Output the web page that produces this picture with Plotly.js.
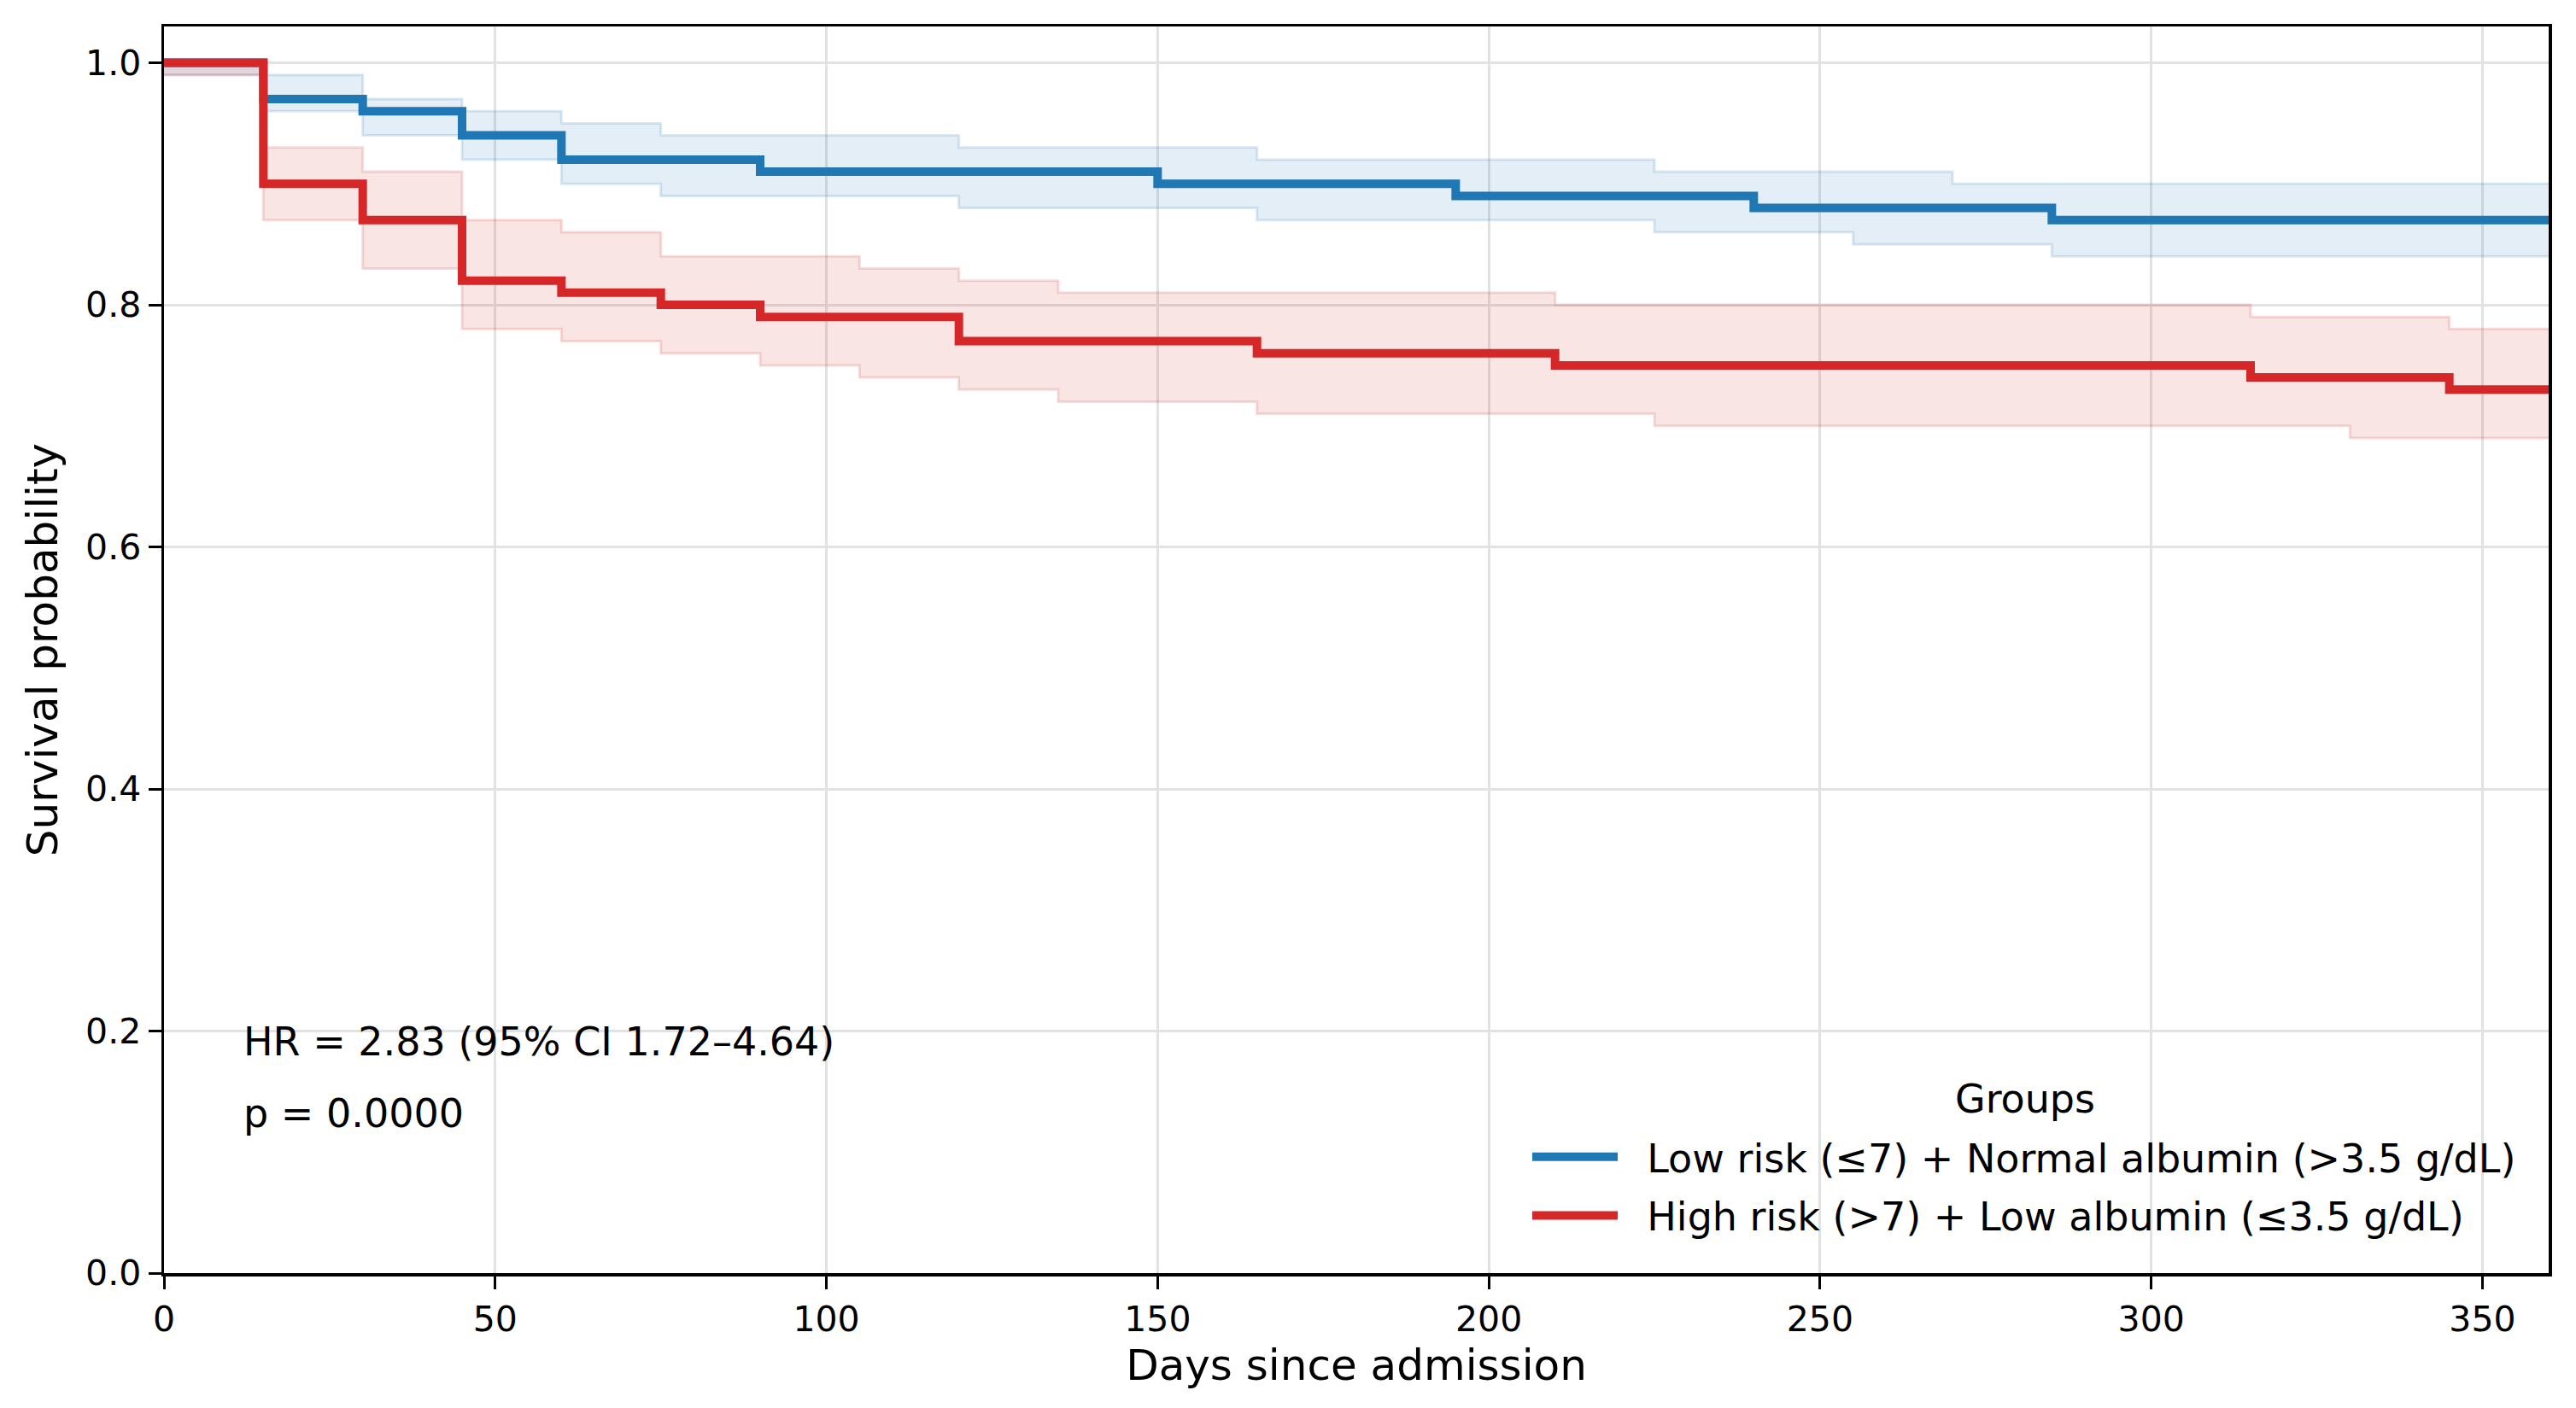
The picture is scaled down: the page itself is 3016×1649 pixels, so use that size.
<!DOCTYPE html>
<html>
<head>
<meta charset="utf-8">
<script src="https://cdn.plot.ly/plotly-3.0.1.min.js"></script>
<style>
  html, body { margin: 0; padding: 0; background: #fff; }
  #plot { width: 3016px; height: 1649px; }
</style>
</head>
<body>
<div id="plot"></div>
<script>
// Kaplan-Meier curves (step-post, last value held to day 360)
const lowTimes = [0, 15, 30, 45, 60, 90, 150, 195, 240, 285, 360];
const lowSurv  = [1.00, 0.97, 0.96, 0.94, 0.92, 0.91, 0.90, 0.89, 0.88, 0.87, 0.87];
const lowUpperTimes = [0, 15, 30, 45, 60, 75, 120, 165, 225, 270, 360];
const lowUpper      = [1.00, 0.99, 0.97, 0.96, 0.95, 0.94, 0.93, 0.92, 0.91, 0.90, 0.90];
const lowLowerTimes = [0, 15, 30, 45, 60, 75, 120, 165, 225, 255, 285, 360];
const lowLower      = [0.99, 0.96, 0.94, 0.92, 0.90, 0.89, 0.88, 0.87, 0.86, 0.85, 0.84, 0.84];

const highTimes = [0, 15, 30, 45, 60, 75, 90, 120, 165, 210, 315, 345, 360];
const highSurv  = [1.00, 0.90, 0.87, 0.82, 0.81, 0.80, 0.79, 0.77, 0.76, 0.75, 0.74, 0.73, 0.73];
const highUpperTimes = [0, 15, 30, 45, 60, 75, 105, 120, 135, 210, 315, 345, 360];
const highUpper      = [1.00, 0.93, 0.91, 0.87, 0.86, 0.84, 0.83, 0.82, 0.81, 0.80, 0.79, 0.78, 0.78];
const highLowerTimes = [0, 15, 30, 45, 60, 75, 90, 105, 120, 135, 165, 225, 330, 360];
const highLower      = [0.99, 0.87, 0.83, 0.78, 0.77, 0.76, 0.75, 0.74, 0.73, 0.72, 0.71, 0.70, 0.69, 0.69];

const groupLabels = [
  'Low risk (\u22647) + Normal albumin (>3.5 g/dL)',
  'High risk (>7) + Low albumin (\u22643.5 g/dL)'
];
const legendTitle = 'Groups';
const xTicks = [0, 50, 100, 150, 200, 250, 300, 350];
const yTicks = [0, 0.2, 0.4, 0.6, 0.8, 1.0];
const statLines = ['HR = 2.83 (95% CI 1.72\u20134.64)', 'p = 0.0000'];

const FONT = 'DejaVu Sans, Verdana, sans-serif';
const COLORS = { low: '#1f77b4', high: '#d62728' };

function rgba(hex, a) {
  const n = parseInt(hex.slice(1), 16);
  return `rgba(${(n >> 16) & 255},${(n >> 8) & 255},${n & 255},${a})`;
}

function bandTraces(lt, lv, ut, uv, color, group) {
  const edge = { color: rgba(color, 0.16), width: 3, shape: 'hv' };
  return [
    { x: lt, y: lv, mode: 'lines', line: edge, showlegend: false,
      hoverinfo: 'skip', legendgroup: group },
    { x: ut, y: uv, mode: 'lines', line: edge, fill: 'tonexty',
      fillcolor: rgba(color, 0.12), showlegend: false,
      hoverinfo: 'skip', legendgroup: group }
  ];
}

function curveTrace(t, s, color, name, group) {
  // two non-breaking spaces keep the gap between legend handle and label
  return {
    x: t, y: s, mode: 'lines', name: '\u00a0\u00a0' + name, legendgroup: group,
    line: { color: color, width: 10, shape: 'hv' }
  };
}

const traces = [
  ...bandTraces(lowLowerTimes, lowLower, lowUpperTimes, lowUpper, COLORS.low, 'low'),
  curveTrace(lowTimes, lowSurv, COLORS.low, groupLabels[0], 'low'),
  ...bandTraces(highLowerTimes, highLower, highUpperTimes, highUpper, COLORS.high, 'high'),
  curveTrace(highTimes, highSurv, COLORS.high, groupLabels[1], 'high')
];

const axisCommon = {
  showgrid: true, gridcolor: '#e2e2e2', gridwidth: 3,
  zeroline: false,
  showline: true, linecolor: '#000', linewidth: 3.5, mirror: true,
  ticks: 'outside', ticklen: 15, tickwidth: 3, tickcolor: '#000',
  tickfont: { family: FONT, size: 41, color: '#000' }
};

const textFont = { family: FONT, size: 46, color: '#000' };

const layout = {
  width: 3016, height: 1649,
  margin: { l: 192, r: 32, t: 31, b: 158 },
  paper_bgcolor: '#fff', plot_bgcolor: '#fff',
  font: { family: FONT, color: '#000' },
  xaxis: Object.assign({}, axisCommon, {
    range: [0, 360], tickvals: xTicks,
    title: { text: 'Days since admission', font: { family: FONT, size: 50, color: '#000' }, standoff: 14 }
  }),
  yaxis: Object.assign({}, axisCommon, {
    range: [0, 1.03], tickvals: yTicks, tickformat: '.1f',
    title: { text: 'Survival probability', font: { family: FONT, size: 50, color: '#000' }, standoff: 17 }
  }),
  showlegend: true,
  legend: {
    x: 0.572, xanchor: 'left', y: 0.021, yanchor: 'bottom',
    bgcolor: 'rgba(0,0,0,0)', borderwidth: 0,
    traceorder: 'grouped', tracegroupgap: 6,
    itemwidth: 100,
    font: textFont
  },
  annotations: [
    ...statLines.map((txt, i) => ({
      xref: 'paper', yref: 'paper', x: 0.0325, y: [0.1856, 0.128][i],
      xanchor: 'left', yanchor: 'middle', showarrow: false, text: txt,
      font: textFont
    })),
    { xref: 'paper', yref: 'paper', x: 0.7804, y: 0.1397,
      xanchor: 'center', yanchor: 'middle', showarrow: false,
      text: legendTitle, font: textFont }
  ]
};

Plotly.newPlot('plot', traces, layout, { displayModeBar: false, staticPlot: true });
</script>
</body>
</html>
